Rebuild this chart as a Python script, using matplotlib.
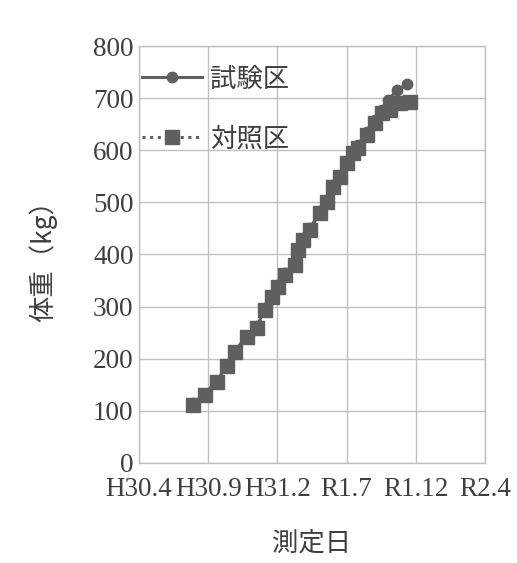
import matplotlib
matplotlib.use("Agg")
import matplotlib.pyplot as plt
from matplotlib.ticker import FixedLocator

# ---- data (days since H30.4 start, weight kg) ----
test_days = [117, 143, 169, 191, 208, 234, 256, 273, 288, 301, 316, 338, 345, 356,
             371, 392, 408, 421, 436, 451, 464, 475, 494, 512, 527, 540, 560, 581]
test_weight = [114, 133, 158, 187, 215, 244, 262, 297, 322, 341, 364, 383, 411, 431,
               450, 483, 504, 533, 552, 579, 598, 610, 636, 658, 678, 697, 716, 727]

ctrl_days = [117, 143, 169, 191, 208, 234, 256, 273, 288, 301, 316, 338, 345, 356,
             371, 392, 408, 421, 436, 451, 464, 475, 494, 512, 527, 544, 566, 588]
ctrl_weight = [111, 130, 156, 185, 213, 242, 259, 294, 319, 338, 361, 380, 409, 428,
               447, 480, 501, 530, 549, 576, 595, 605, 630, 653, 672, 678, 691, 693]

x_ticks = [0, 150, 300, 450, 600, 750]
x_labels = ["H30.4", "H30.9", "H31.2", "R1.7", "R1.12", "R2.4"]
y_ticks = [0, 100, 200, 300, 400, 500, 600, 700, 800]

series_labels = ["試験区", "対照区"]

fig = plt.figure(figsize=(5.17, 5.63), dpi=100)
ax = fig.add_axes([0.269, 0.178, 0.669, 0.740])

col = "#5f5f5f"
grid = "#c0c0c0"
txt = "#3f3f3f"
cjk = ["Noto Sans CJK JP", "DejaVu Sans"]

ax.plot(test_days, test_weight, color=col, lw=2.2, marker="o", ms=7.5,
        label=series_labels[0], zorder=3)
ax.plot(ctrl_days, ctrl_weight, color=col, lw=2.2, ls=(0, (1, 1.5)), marker="s", ms=9.5,
        label=series_labels[1], zorder=4)

ax.set_xlim(0, 750)
ax.set_ylim(0, 800)
ax.xaxis.set_major_locator(FixedLocator(x_ticks))
ax.set_xticklabels(x_labels)
ax.yaxis.set_major_locator(FixedLocator(y_ticks))
ax.grid(True, color=grid, lw=1.0)
ax.set_axisbelow(True)
for s in ax.spines.values():
    s.set_color(grid)
    s.set_linewidth(1.0)
ax.tick_params(length=0, pad=4, colors=txt)
for lab in ax.get_xticklabels() + ax.get_yticklabels():
    lab.set_fontfamily("Liberation Serif")
    lab.set_fontsize(19.5)
    lab.set_color(txt)
ax.tick_params(axis="x", pad=10)

ax.set_xlabel("測定日", fontfamily=cjk, fontsize=19, color=txt, labelpad=20)
ax.set_ylabel("体重（kg）", fontfamily=cjk, fontsize=19, color=txt, labelpad=26)

leg = ax.legend(loc="upper left", bbox_to_anchor=(0.0, 0.96), frameon=False,
                borderaxespad=0, borderpad=0.1, labelspacing=1.25,
                handlelength=2.3, handletextpad=0.3,
                prop={"family": cjk, "size": 19})
for t in leg.get_texts():
    t.set_color(txt)

fig.savefig("out.png", dpi=100, facecolor="white")
